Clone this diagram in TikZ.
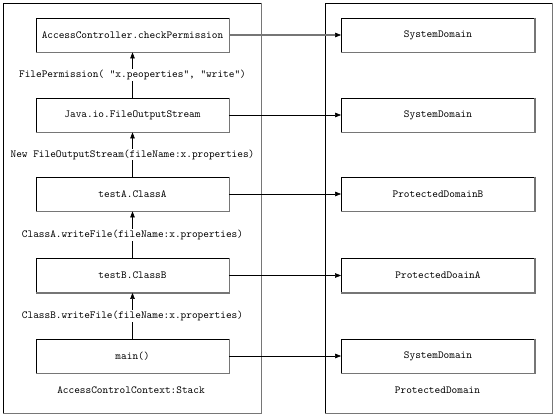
\documentclass[tikz,border=0pt]{standalone}
\usepackage{xcolor}
\usetikzlibrary{arrows.meta}
\definecolor{edgegray}{RGB}{118,118,118}

\begin{document}
\begin{tikzpicture}[x=1pt, y=-1pt,
	font=\ttfamily\fontsize{10.8pt}{13pt}\selectfont,
	frame/.style={draw, line width=0.8pt, inner sep=0pt},
	stackbox/.style={draw, line width=0.8pt, minimum width=193pt, minimum height=34pt, inner sep=0pt},
	call/.style={line width=0.8pt, -{Triangle[length=6pt,width=4.5pt,black,line width=0.6pt]}},
	callname/.style={fill=white, inner sep=1pt},
	shadeedge/.style={draw=edgegray, line width=1.3pt}]
					\useasboundingbox (0,0) rectangle (554,417);
					% outer frames
					\node[frame, minimum width=258pt, minimum height=410pt] (stack) at (132,208) {};
					\node[frame, minimum width=227pt, minimum height=410pt] (domains) at (438.5,208) {};
					\node (stackname) at (131,390) {AccessControlContext:Stack};
					\node (domname) at (437.5,390) {ProtectedDomain};
					
					% call stack
					\node[stackbox] (check) at (132.5,35) {AccessController.checkPermission};
					\node[stackbox] (stream) at (132.5,115) {Java.io.FileOutputStream};
					\node[stackbox] (clsA) at (132.5,194) {testA.ClassA};
					\node[stackbox] (clsB) at (132.5,275.5) {testB.ClassB};
					\node[stackbox] (main) at (132.5,356) {main()};
					
					% protection domains
					\node[stackbox] (sysA) at (438,35) {SystemDomain};
					\node[stackbox] (sysB) at (438,115) {SystemDomain};
					\node[stackbox] (protB) at (438,194) {ProtectedDomainB};
					\node[stackbox] (protA) at (438,275.5) {ProtectedDoainA};
					\node[stackbox] (sysC) at (438,356) {SystemDomain};
					
					% gray lower right edges
					\foreach \n in {stack,domains,check,stream,clsA,clsB,main,sysA,sysB,protB,protA,sysC}
						\draw[shadeedge] (\n.north east) -- (\n.south east) -- (\n.south west);
					
					% calls up the stack
					\draw[call] (stream) -- node[callname] {FilePermission( “x.peoperties”, “write”)} (check);
					\draw[call] (clsA) -- node[callname] {New FileOutputStream(fileName:x.properties)} (stream);
					\draw[call] (clsB) -- node[callname] {ClassA.writeFile(fileName:x.properties)} (clsA);
					\draw[call] (main) -- node[callname] {ClassB.writeFile(fileName:x.properties)} (clsB);
					
					% domain of each frame
					\draw[call, edgegray, line width=1.2pt] (check) -- (sysA);
					\draw[call] (stream) -- (sysB);
					\draw[call] (clsA) -- (protB);
					\draw[call] (clsB) -- (protA);
					\draw[call] (main) -- (sysC);
\end{tikzpicture}
\end{document}
